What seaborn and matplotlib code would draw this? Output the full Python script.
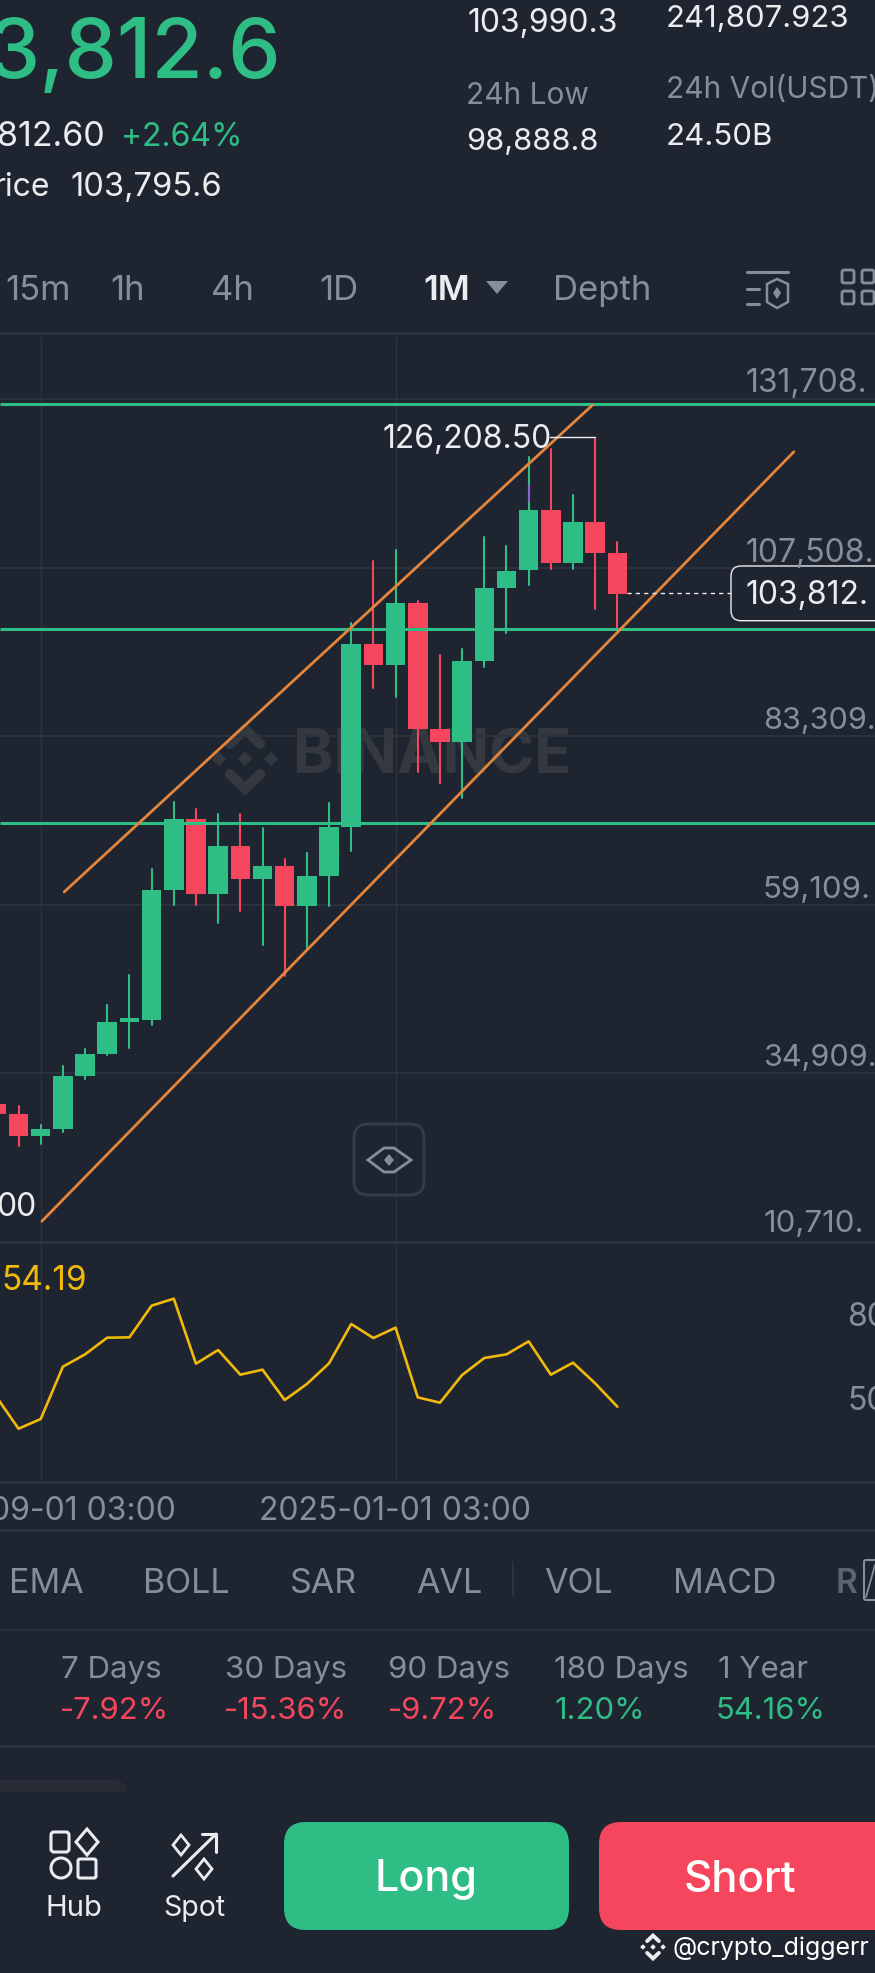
import pandas as pd
import numpy as np
import matplotlib
matplotlib.use('Agg')
import matplotlib.pyplot as plt
from matplotlib.patches import FancyBboxPatch, Polygon, Circle, Rectangle
import seaborn as sns

# candles, monthly
candle_idx = list(range(-2, 27))
opens = [30486, 29149, 25932, 26894, 34606, 37665, 42305, 42549, 61219, 71373, 60645, 67538, 62756, 64623, 58964,
         63273, 70310, 96507, 93534, 102395, 84299, 82518, 94108, 104549, 107134, 115752, 108226, 114028, 109576]
closes = [29149, 25932, 26894, 34606, 37665, 42263, 42735, 61219, 71373, 60645, 67538, 62756, 64623, 58964, 63273,
          70267, 96507, 93534, 102395, 84299, 82518, 94108, 104549, 107077, 115752, 108226, 114028, 109576, 103812]
highs = [30800, 30197, 27469, 35942, 38484, 44746, 49012, 64278, 73901, 72896, 72134, 72134, 70081, 65628, 66490,
         73671, 99609, 108427, 110050, 102725, 94970, 95789, 111960, 110668, 123364, 124556, 117906, 126208, 111199]
lows = [28900, 24496, 24840, 26463, 34075, 37522, 38527, 41874, 59108, 59108, 56523, 58246, 53363, 48911, 52846,
        58921, 66864, 90231, 88981, 78210, 76544, 74475, 93290, 98173, 105023, 107278, 107278, 101533, 98661]
rsi = [57.76, 46.33, 49.78, 68.47, 72.88, 78.83, 78.95, 90.26, 92.76, 69.54, 74.43, 65.62, 67.40, 56.57, 62.29,
       69.67, 83.71, 78.71, 82.40, 57.52, 55.62, 65.50, 71.57, 72.88, 77.52, 65.62, 69.90, 62.52, 54.19]

# levels and channel drawn by the user
levels = [131062, 98704, 70799]
upper_x = [1.06, 24.88]
upper_y = [60975, 130875]
lower_x = [0.05, 33.96]
lower_y = [13682, 124168]

grid_prices = [131708, 107508, 83309, 59109, 34909, 10710]
price_labels = ['131,708.', '107,508.', '83,309.', '59,109.', '34,909.', '10,710.']
month_grid = [0, 16]
rsi_ticks = ['80', '50']
tf_labels = ['15m', '1h', '4h', '1D']
ind_labels = ['EMA', 'BOLL', 'SAR', 'AVL', 'VOL', 'MACD']
period_names = ['7 Days', '30 Days', '90 Days', '180 Days', '1 Year']
period_values = ['-7.92%', '-15.36%', '-9.72%', '1.20%', '54.16%']

BG = '#1f2530'
GRID = '#2e343f'
GREEN = '#2ebd85'
RED = '#f6465d'
ORANGE = '#e5853c'
YELLOW = '#f0b90b'
GREY = '#848e9c'
WHITE = '#eaecef'
W, H = 875, 1973

sns.set_theme(style='dark', rc={'figure.facecolor': BG, 'axes.facecolor': BG})
plt.rcParams['font.family'] = ['Inter', 'DejaVu Sans']

fig = plt.figure(figsize=(W / 100, H / 100), dpi=100)


def rect(top, bottom):
    return [0, 1 - bottom / H, 1, (bottom - top) / H]


# pixel -> candle index mapping is the same in both panels
x0 = -40.7 / 22.18
x1 = (W - 40.7) / 22.18

# watermark goes under everything
under = fig.add_axes([0, 0, 1, 1], zorder=0)
under.set_xlim(0, W)
under.set_ylim(H, 0)
under.axis('off')

# main panel
ax = fig.add_axes(rect(336, 1242), zorder=1)
ax.set_xlim(x0, x1)
px_per_price = 168.5 / 24199.5
ax.set_ylim(10710, 107508 + (567.7 - 336) / px_per_price)
ax.hlines(grid_prices, x0, x1, color=GRID, lw=1.3, zorder=1)
ax.vlines(month_grid, ax.get_ylim()[0], ax.get_ylim()[1], color=GRID, lw=1.0, zorder=1)

df = pd.DataFrame({'idx': candle_idx, 'open': opens, 'close': closes, 'high': highs, 'low': lows})
df['up'] = df['close'] >= df['open']
wicks = df.melt(id_vars=['idx', 'up'], value_vars=['high', 'low'], value_name='price')
sns.lineplot(data=wicks, x='idx', y='price', hue='up', units='idx', estimator=None, palette={True: GREEN, False: RED},
             lw=1.5, legend=False, ax=ax, zorder=3)
ax.bar(df['idx'], (df['close'] - df['open']).abs().clip(lower=500), bottom=df[['open', 'close']].min(axis=1), width=0.88,
       color=[GREEN if u else RED for u in df['up']], edgecolor='none', linewidth=0, zorder=4)
ax.vlines([22], [116987], [119385], color='#8a63d2', lw=1.5, zorder=4)

ax.hlines(levels, x0, x1, color=GREEN, lw=2.2, zorder=5)
sns.lineplot(x=upper_x, y=upper_y, color=ORANGE, lw=2.0, ax=ax, zorder=6)
sns.lineplot(x=lower_x, y=lower_y, color=ORANGE, lw=2.0, ax=ax, zorder=6)
ax.set_xlim(x0, x1)
ax.axis('off')

# rsi panel
ax2 = fig.add_axes(rect(1242, 1481.7), zorder=1)
ax2.vlines(month_grid, 27.4, 113, color=GRID, lw=1.0, zorder=1)
sns.lineplot(x=candle_idx, y=rsi, color=YELLOW, lw=1.9, ax=ax2, zorder=3)
ax2.set_xlim(x0, x1)
ax2.set_ylim(27.4, 113)
ax2.axis('off')

# overlay in pixel coordinates for all the app chrome
ov = fig.add_axes([0, 0, 1, 1], zorder=10)
ov.set_xlim(0, W)
ov.set_ylim(H, 0)
ov.axis('off')


def txt(x, y, s, size=23, color=WHITE, ha='left', **kw):
    ov.text(x, y + 2, s, fontsize=size, color=color, ha=ha, va='center', **kw)


def sep(y, lw=1.3, color=GRID):
    ov.plot([0, W], [y, y], color=color, lw=lw, solid_capstyle='butt')


def diamond(a, cx, cy, rx, ry, **kw):
    a.add_patch(Polygon([(cx, cy - ry), (cx + rx, cy), (cx, cy + ry), (cx - rx, cy)], closed=True, **kw))


def binance_logo(a, cx, cy, r, color):
    s = r * 0.2
    diamond(a, cx, cy, s, s, color=color, lw=0)
    diamond(a, cx - r * 0.72, cy, s, s, color=color, lw=0)
    diamond(a, cx + r * 0.72, cy, s, s, color=color, lw=0)
    for sg in (-1, 1):
        a.plot([cx - r * 0.42, cx, cx + r * 0.42], [cy + sg * r * 0.42, cy + sg * r * 0.82, cy + sg * r * 0.42],
               color=color, lw=r * 0.2, solid_joinstyle='miter')


# header
txt(281, 54, '3,812.6', 60, GREEN, ha='right', fontweight='medium')
txt(105, 135, '812.60', 24.5, WHITE, ha='right')
txt(121, 135, '+2.64%', 23, GREEN)
txt(50, 185, 'rice', 23, WHITE, ha='right')
txt(70, 185, '103,795.6', 23.5, WHITE)
txt(468, 22, '103,990.3', 23, WHITE)
txt(666, 17, '241,807.923', 22.4, WHITE)
txt(466, 94, '24h Low', 21.5, GREY)
txt(666, 88, '24h Vol(USDT)', 21.5, GREY)
txt(466, 140, '98,888.8', 22.2, WHITE)
txt(666, 135, '24.50B', 22.5, WHITE)

for x, s in zip([5, 110, 211, 319], tf_labels):
    txt(x, 289, s, 25, GREY)
txt(423, 289, '1M', 25, WHITE, fontweight='semibold')
ov.add_patch(Polygon([(486, 281), (508, 281), (497, 294)], closed=True, color=GREY, lw=0))
txt(553, 289, 'Depth', 25, GREY)

# toolbar icons
ov.plot([747, 788], [272, 272], color=GREY, lw=2.2)
ov.plot([747, 759], [289, 289], color=GREY, lw=2.2)
ov.plot([747, 759], [304, 304], color=GREY, lw=2.2)
ov.add_patch(Polygon([(767, 284), (777, 279), (788, 284), (788, 302), (777, 308), (767, 302)], closed=True, fill=False,
                     ec=GREY, lw=1.8))
diamond(ov, 777, 293, 4, 6, color=GREY, lw=0)
for x, y in [(842, 270), (862, 270), (842, 291), (862, 291)]:
    ov.add_patch(FancyBboxPatch((x, y), 12, 13, boxstyle='round,pad=0,rounding_size=2', fill=False, ec=GREY, lw=2))
sep(333, lw=2)

# price labels
for s, y, x, fs in zip(price_labels, [381, 552, 719, 888, 1056, 1222], [746, 746, 763, 763, 763, 764],
                       [23, 23, 22, 22.5, 22, 22.5]):
    txt(x, y, s, fs, GREY)

ov.plot([550, 595], [437, 437], color=WHITE, lw=1)
txt(383, 437.7, '126,208.50', 23, WHITE)
txt(36, 1205, '00', 23, WHITE, ha='right')
ov.plot([627, 731], [593, 593], color=WHITE, lw=1, ls=(0, (3, 3)))
ov.add_patch(FancyBboxPatch((731, 566), 200, 54.7, boxstyle='round,pad=0,rounding_size=10', fc=BG, ec=WHITE, lw=1))
txt(746, 593, '103,812.', 23, WHITE)

# watermark
under.text(293, 757, 'BINANCE', fontsize=44, color='#33393f', fontweight='bold', va='center', ha='left')
binance_logo(under, 245, 759, 36, '#33393f')

# eye button
ov.add_patch(FancyBboxPatch((354, 1124), 70, 71, boxstyle='round,pad=0,rounding_size=14', fill=False, ec='#363c47', lw=2))
ov.add_patch(Polygon([(368, 1160), (384, 1148), (394, 1148), (411, 1160), (394, 1172), (384, 1172)], closed=True,
                     fill=False, ec=GREY, lw=2))
diamond(ov, 389, 1160, 5, 6, color=GREY, lw=0)

# rsi labels
txt(1, 1279, '54.19', 24, YELLOW)
for s, y in zip(rsi_ticks, [1316, 1400]):
    txt(847, y, s, 23, GREY)

sep(1241.5, lw=1.8)
sep(1481.7, lw=1.8)
sep(1530, lw=2)
txt(176, 1510, '09-01 03:00', 23, GREY, ha='right')
txt(395, 1510, '2025-01-01 03:00', 23, GREY, ha='center')

# indicators row
for x, s in zip([9, 143, 290, 416, 544, 673], ind_labels):
    txt(x, 1582, s, 24.5, GREY)
ov.plot([513, 513], [1562, 1597], color=GRID, lw=1.3)
txt(836, 1582, 'R', 24, '#5c6470', fontweight='semibold')
ov.add_patch(FancyBboxPatch((864, 1560), 20, 40, boxstyle='round,pad=0,rounding_size=2', fill=False, ec=GREY, lw=1.5))
ov.plot([866, 875], [1597, 1565], color=GREY, lw=1.3)
sep(1630, lw=1.2)

# performance table
for x, xv, s, v in zip([61, 225, 388, 554, 718], [60, 224, 388, 554, 716], period_names, period_values):
    txt(x, 1668, s, 22.5, GREY)
    txt(xv, 1709, v, 22.3, RED if v.startswith('-') else GREEN)
sep(1746, lw=2)
ov.add_patch(FancyBboxPatch((-20, 1780), 147, 30, boxstyle='round,pad=0,rounding_size=14', fc='#262b36', ec='none'))
ov.add_patch(Rectangle((-20, 1792), 170, 25, fc=BG, ec='none'))

# hub / spot icons and buttons
ic = '#eaecef'
ov.add_patch(FancyBboxPatch((51, 1832), 18, 20, boxstyle='round,pad=0,rounding_size=3', fill=False, ec=ic, lw=2.2))
diamond(ov, 87, 1842, 11, 13, fill=False, ec=ic, lw=2.2)
ov.add_patch(Circle((61, 1868), 10, fill=False, ec=ic, lw=2.2))
ov.add_patch(FancyBboxPatch((78, 1859), 18, 19, boxstyle='round,pad=0,rounding_size=2', fill=False, ec=ic, lw=2.2))
ov.plot([173, 216], [1876, 1834], color=ic, lw=2.2)
ov.plot([202, 216, 216], [1834, 1834, 1852], color=ic, lw=2.2)
diamond(ov, 181, 1845, 8, 10, fill=False, ec=ic, lw=2)
diamond(ov, 204, 1869, 8, 10, fill=False, ec=ic, lw=2)
txt(74, 1906, 'Hub', 21, ic, ha='center')
txt(194, 1906, 'Spot', 20.5, ic, ha='center')

ov.add_patch(FancyBboxPatch((284, 1822), 285, 108, boxstyle='round,pad=0,rounding_size=22', fc=GREEN, ec='none'))
ov.add_patch(FancyBboxPatch((599, 1822), 330, 108, boxstyle='round,pad=0,rounding_size=22', fc=RED, ec='none'))
txt(426, 1878, 'Long', 31, 'white', ha='center', fontweight='medium')
txt(740, 1878, 'Short', 31.5, 'white', ha='center', fontweight='medium')

binance_logo(ov, 653, 1947, 14, '#eaecef')
txt(672, 1946, '@crypto_diggerr', 18, 'white')

fig.savefig('out.png', dpi=100, facecolor=BG)
